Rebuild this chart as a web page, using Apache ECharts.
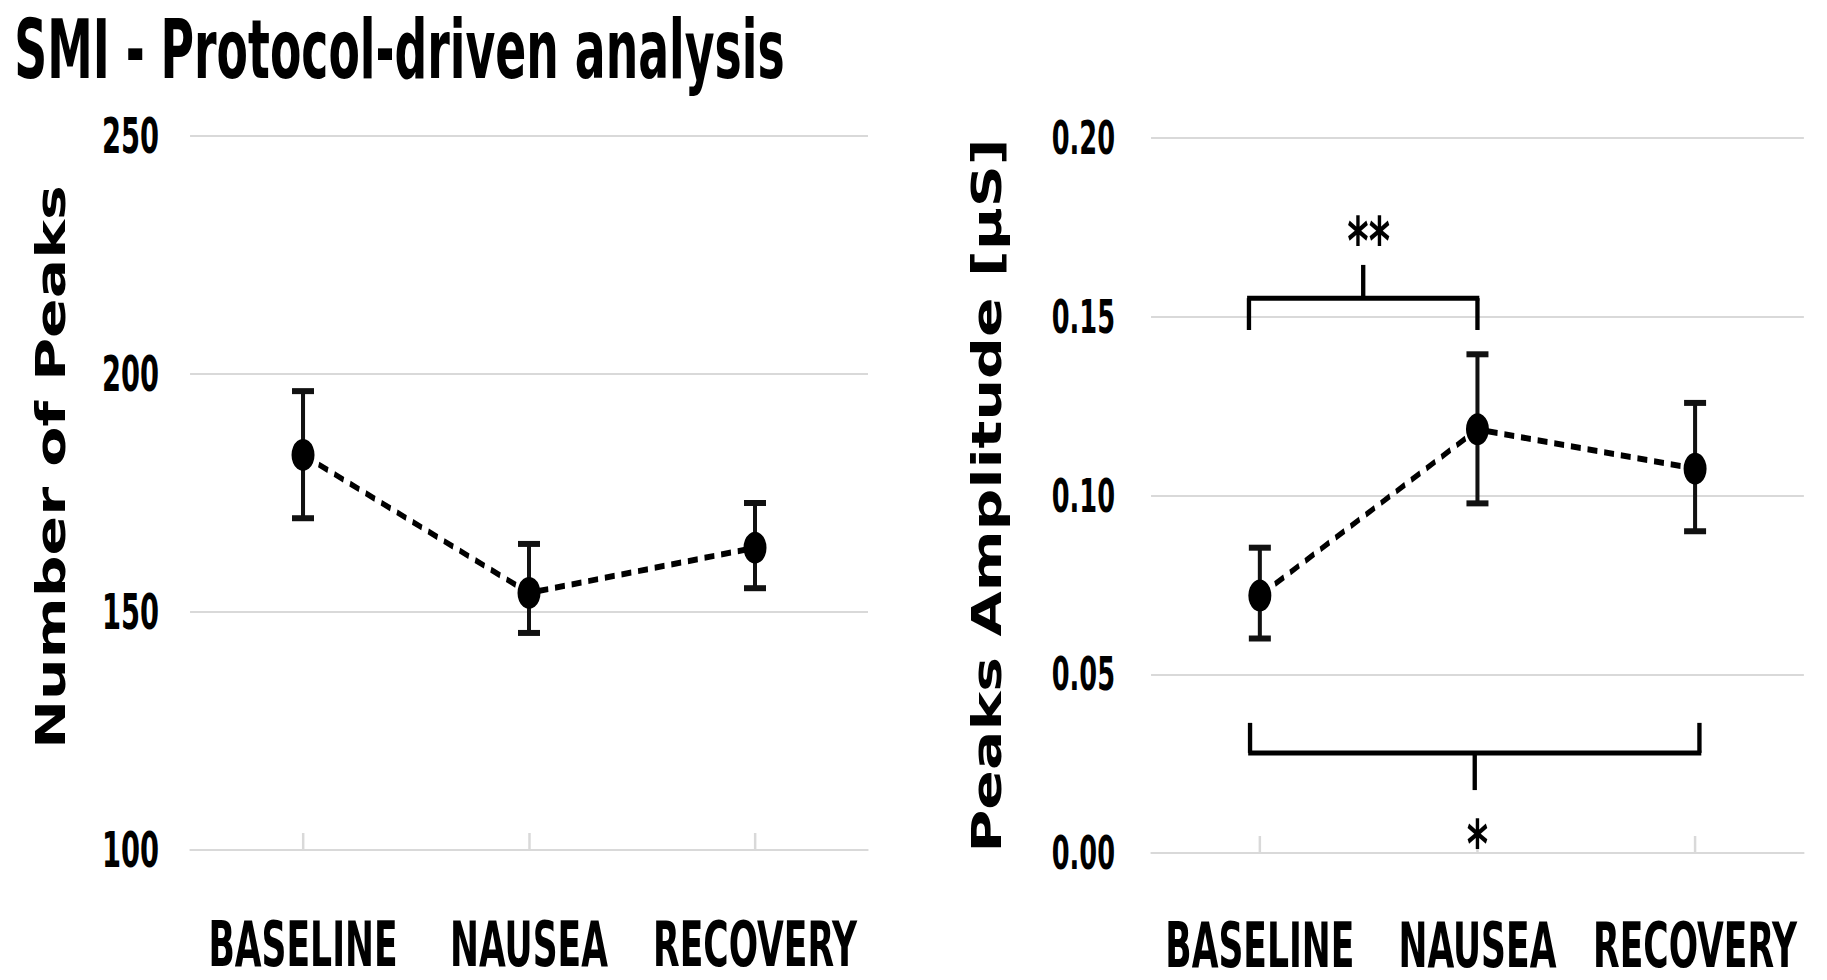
<!DOCTYPE html>
<html><head><meta charset="utf-8">
<script src="https://cdn.jsdelivr.net/npm/echarts@6/dist/echarts.min.js"></script>
<style>
html,body{margin:0;padding:0;background:#fff;overflow:hidden;width:1827px;height:980px}
#wrap{width:1827px;height:980px;overflow:hidden;position:relative}
#c{width:2947px;height:980px;transform:scaleX(0.62);transform-origin:0 0;position:absolute;left:0;top:0}
</style>
</head><body><div id="wrap"><div id="c"></div></div>
<script>
// ---- data ----
const categories = ['BASELINE', 'NAUSEA', 'RECOVERY'];
const peaksMean = [183, 154, 163.5];
const peaksLow  = [169.7, 145.6, 155];
const peaksHigh = [196.4, 164.3, 172.9];
const ampMean = [0.072, 0.1185, 0.1075];
const ampLow  = [0.060, 0.0978, 0.090];
const ampHigh = [0.0854, 0.1395, 0.1259];
const peaksAxis = { min: 100, max: 250, interval: 50 };
const ampAxis = { min: 0, max: 0.20, interval: 0.05 };
// brackets: [fromCat, toCat, barValue, endValue, tipValue]
const bracketsAmp = [
  [-0.05, 1.0, 0.1552, 0.1463, 0.1645],
  [-0.045, 2.02, 0.0280, 0.0364, 0.0176]
];
const sigLabels = ['**', '*'];
const sigPos = [[0.5, 0.1712], [1, 0.0025]];

// the picture is horizontally condensed: draw wide, then squeeze the page by SX
const SX = 0.62;
const COND = "'DejaVu Sans Condensed', 'DejaVu Sans', sans-serif";
const WIDE = "'DejaVu Sans', sans-serif";
const INK = '#000';
const GRID = '#d9d9d9';

function xAt(api, f) {
  const i = Math.floor(f);
  const base = api.coord([i, 0])[0];
  return base + (f - i) * api.size([1, 0])[0];
}

function errorBarItem(params, api) {
  const x = api.value(0);
  const lo = api.coord([x, api.value(1)]);
  const hi = api.coord([x, api.value(2)]);
  const cw = 22 / SX, ch = 6;
  return { type: 'group', children: [
    { type: 'line', shape: { x1: lo[0], y1: lo[1], x2: hi[0], y2: hi[1] }, style: { stroke: '#111', lineWidth: 6.5 } },
    { type: 'rect', shape: { x: hi[0] - cw / 2, y: hi[1] - ch / 2, width: cw, height: ch }, style: { fill: '#111' } },
    { type: 'rect', shape: { x: lo[0] - cw / 2, y: lo[1] - ch / 2, width: cw, height: ch }, style: { fill: '#111' } }
  ]};
}

function bracketItem(params, api) {
  const b = bracketsAmp[params.dataIndex];
  const x1 = xAt(api, b[0]), x2 = xAt(api, b[1]);
  const yBar = api.coord([0, b[2]])[1];
  const yEnd = api.coord([0, b[3]])[1];
  const yTip = api.coord([0, b[4]])[1];
  const xm = (x1 + x2) / 2;
  const v = { stroke: INK, lineWidth: 7 };
  return { type: 'group', children: [
    { type: 'line', shape: { x1: x1 - 3, y1: yBar, x2: x2 + 3, y2: yBar }, style: { stroke: INK, lineWidth: 5 } },
    { type: 'line', shape: { x1: x1, y1: yBar, x2: x1, y2: yEnd }, style: v },
    { type: 'line', shape: { x1: x2, y1: yBar, x2: x2, y2: yEnd }, style: v },
    { type: 'line', shape: { x1: xm, y1: yBar, x2: xm, y2: yTip }, style: v }
  ]};
}

function sigItem(params, api) {
  const p = sigPos[params.dataIndex];
  const x = xAt(api, p[0]);
  const y = api.coord([0, p[1]])[1];
  return { type: 'text', x: x, y: y, style: {
    text: sigLabels[params.dataIndex], textAlign: 'center', textVerticalAlign: 'middle',
    fontFamily: WIDE, fontWeight: 'bold', fontSize: 66, fill: INK } };
}

function xAxisFor(gridIndex, margin) {
  return {
    gridIndex: gridIndex, type: 'category', data: categories, boundaryGap: true,
    axisLine: { show: true, lineStyle: { color: GRID, width: 2 } },
    axisTick: { show: true, alignWithLabel: true, inside: true, length: 17, lineStyle: { color: GRID, width: 4 } },
    axisLabel: { interval: 0, margin: margin, fontFamily: COND, fontWeight: 'bold', fontSize: 62, color: INK },
    splitLine: { show: false }
  };
}

const yAxisCommon = {
  type: 'value',
  axisLine: { show: false }, axisTick: { show: false },
  splitLine: { show: true, lineStyle: { color: GRID, width: 2 } },
  nameLocation: 'middle', nameRotate: 90
};

const option = {
  animation: false,
  backgroundColor: '#fff',
  title: { text: 'SMI - Protocol-driven analysis', left: 18, top: 4,
    textStyle: { fontFamily: COND, fontWeight: 'bold', fontSize: 82, color: INK } },
  grid: [
    { left: 306.5, top: 136, width: 1093.5, height: 714 },
    { left: 1856.5, top: 138, width: 1053, height: 715 }
  ],
  xAxis: [ xAxisFor(0, 63), xAxisFor(1, 61) ],
  yAxis: [
    Object.assign({}, yAxisCommon, { gridIndex: 0, min: peaksAxis.min, max: peaksAxis.max, interval: peaksAxis.interval,
      name: 'Number of Peaks', nameGap: 191,
      nameTextStyle: { fontFamily: COND, fontWeight: 'bold', fontSize: 65, color: INK, padding: [0, 0, 0, 52] },
      axisLabel: { margin: 50, fontFamily: COND, fontWeight: 'bold', fontSize: 49, color: INK } }),
    Object.assign({}, yAxisCommon, { gridIndex: 1, min: ampAxis.min, max: ampAxis.max, interval: ampAxis.interval,
      name: 'Peaks Amplitude [\u00b5S]', nameGap: 231,
      nameTextStyle: { fontFamily: COND, fontWeight: 'bold', fontSize: 65, color: INK },
      axisLabel: { margin: 58, fontFamily: COND, fontWeight: 'bold', fontSize: 46, color: INK,
        formatter: v => v.toFixed(2) } })
  ],
  series: [
    { type: 'custom', xAxisIndex: 0, yAxisIndex: 0, renderItem: errorBarItem, z: 2,
      encode: { x: 0, y: [1, 2] },
      data: categories.map((c, i) => [i, peaksLow[i], peaksHigh[i]]) },
    { type: 'line', xAxisIndex: 0, yAxisIndex: 0, data: peaksMean, z: 3,
      symbol: 'circle', symbolSize: [23 / SX, 32], itemStyle: { color: INK },
      lineStyle: { color: INK, width: 6, type: [16, 11] } },
    { type: 'custom', xAxisIndex: 1, yAxisIndex: 1, renderItem: errorBarItem, z: 2,
      encode: { x: 0, y: [1, 2] },
      data: categories.map((c, i) => [i, ampLow[i], ampHigh[i]]) },
    { type: 'line', xAxisIndex: 1, yAxisIndex: 1, data: ampMean, z: 3,
      symbol: 'circle', symbolSize: [23 / SX, 32], itemStyle: { color: INK },
      lineStyle: { color: INK, width: 6, type: [16, 11] } },
    { type: 'custom', xAxisIndex: 1, yAxisIndex: 1, renderItem: bracketItem, z: 4,
      data: bracketsAmp.map((b) => [0, b[2]]) },
    { type: 'custom', xAxisIndex: 1, yAxisIndex: 1, renderItem: sigItem, z: 4,
      data: sigPos.map((p) => [0, p[1]]) }
  ]
};

const chart = echarts.init(document.getElementById('c'), null, { renderer: 'svg' });
chart.setOption(option);
</script>
</body></html>
